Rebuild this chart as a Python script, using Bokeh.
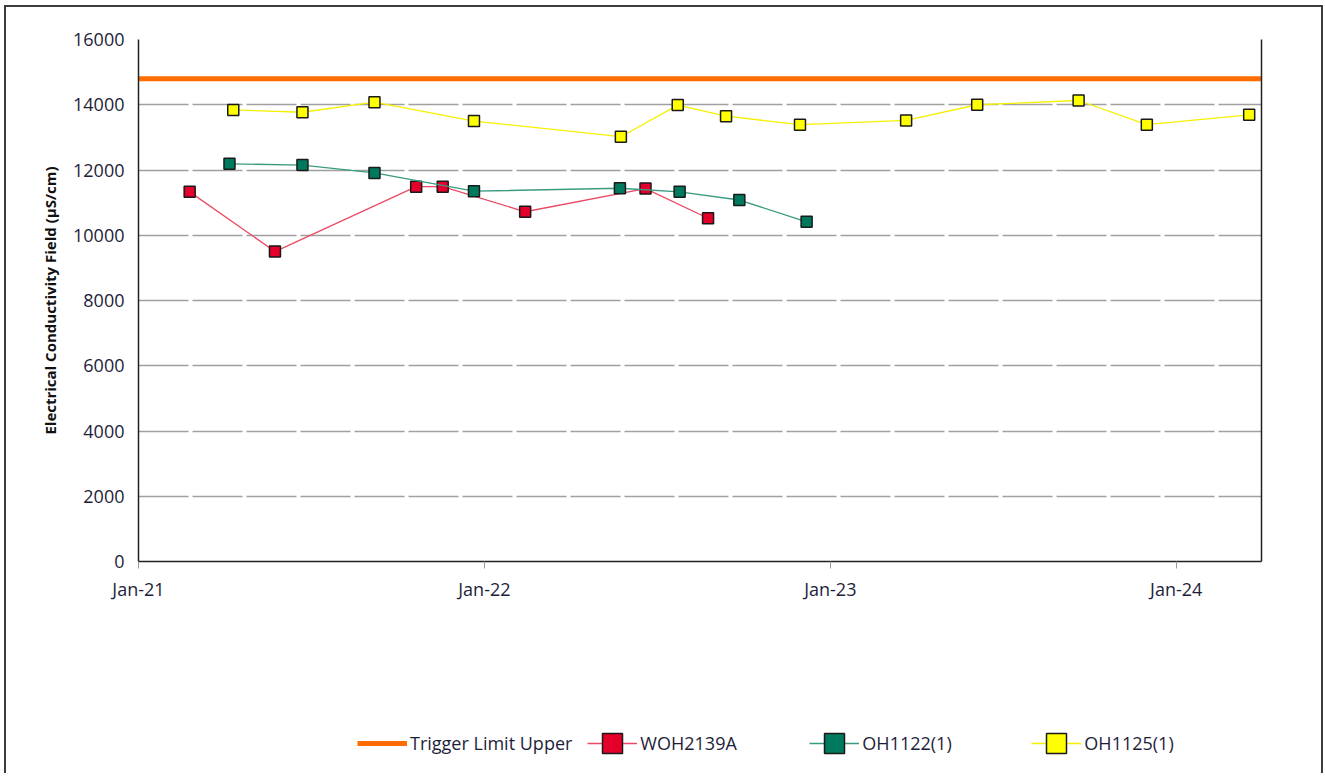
from datetime import datetime
from bokeh.plotting import figure
from bokeh.layouts import column
from bokeh.models import (ColumnDataSource, DatetimeTickFormatter, FixedTicker,
                          LinearAxis, Legend, LegendItem, Range1d)
from bokeh.embed import file_html
from bokeh.resources import INLINE

# ---------------- data ----------------
woh_dates = ["2021-02-24", "2021-05-25", "2021-10-21", "2021-11-18",
             "2022-02-13", "2022-06-20", "2022-08-25"]
woh_vals = [11330, 9500, 11490, 11490, 10720, 11430, 10520]

oh1122_dates = ["2021-04-07", "2021-06-23", "2021-09-07", "2021-12-21",
                "2022-05-24", "2022-07-26", "2022-09-27", "2022-12-07"]
oh1122_vals = [12190, 12150, 11910, 11350, 11440, 11330, 11080, 10410]

oh1125_dates = ["2021-04-11", "2021-06-23", "2021-09-07", "2021-12-21",
                "2022-05-25", "2022-07-24", "2022-09-13", "2022-11-30",
                "2023-03-22", "2023-06-05", "2023-09-20", "2023-12-01",
                "2024-03-18"]
oh1125_vals = [13840, 13770, 14080, 13500, 13020, 13990, 13650, 13390,
               13520, 14000, 14130, 13390, 13690]

trigger_dates = ["2021-01-01", "2024-03-31"]
trigger_vals = [14800, 14800]

year_ticks = ["2021-01-01", "2022-01-01", "2023-01-01", "2024-01-01"]
y_ticks = [0, 2000, 4000, 6000, 8000, 10000, 12000, 14000, 16000]

series_names = ["Trigger Limit Upper", "WOH2139A", "OH1122(1)", "OH1125(1)"]

def d(lst):
    return [datetime.strptime(s, "%Y-%m-%d") for s in lst]

FONT = "Open Sans"
TXT = "#1e1e3a"
TRIG_C = "#ff6d00"
RED, RED_L = "#e4002b", "#ea4a64"
GRN, GRN_L = "#007a5e", "#3a9a80"
YEL, YEL_L = "#ffff00", "#f5f000"

W = 1315

p = figure(width=W, height=610, x_axis_type="datetime",
           output_backend="svg", toolbar_location=None,
           x_range=Range1d(d(trigger_dates)[0], d(trigger_dates)[1]),
           y_range=Range1d(0, 16000),
           min_border_left=132, min_border_right=60,
           min_border_top=32, min_border_bottom=56)
p.outline_line_color = None
p.background_fill_color = "white"
p.border_fill_color = "white"

# grid
p.xgrid.grid_line_color = None
p.ygrid.grid_line_color = "#a0a0a0"
p.ygrid.grid_line_width = 1.5
p.ygrid.grid_line_dash = "50 4"

# axes
xa = p.xaxis[0]
xa.ticker = FixedTicker(ticks=[dt.timestamp() * 1000 for dt in d(year_ticks)])
xa.formatter = DatetimeTickFormatter(years="%b-%y", months="%b-%y", days="%b-%y")
xa.axis_line_color = "#222222"
xa.axis_line_width = 1.5
xa.major_tick_line_color = "#999999"
xa.major_tick_out = 7
xa.major_tick_in = 0
xa.minor_tick_line_color = None
xa.major_label_standoff = 8
xa.major_label_text_font = FONT
xa.major_label_text_font_size = "18px"
xa.major_label_text_color = TXT

ya = p.yaxis[0]
ya.ticker = FixedTicker(ticks=y_ticks)
ya.axis_line_color = "#222222"
ya.axis_line_width = 1.5
ya.major_tick_line_color = None
ya.minor_tick_line_color = None
ya.major_tick_out = 0
ya.major_tick_in = 0
ya.major_label_standoff = 14
ya.major_label_text_font = FONT
ya.major_label_text_font_size = "18px"
ya.major_label_text_color = TXT
ya.axis_label = "Electrical Conductivity Field (µS/cm)"
ya.axis_label_text_font = FONT
ya.axis_label_text_font_size = "15px"
ya.axis_label_text_font_style = "bold"
ya.axis_label_text_color = "#111111"
ya.axis_label_standoff = 10

ra = LinearAxis(ticker=FixedTicker(ticks=[]), axis_line_color="#222222",
                axis_line_width=1.5, major_tick_line_color=None,
                minor_tick_line_color=None)
p.add_layout(ra, "right")

# series
trig_src = ColumnDataSource(dict(x=d(trigger_dates), y=trigger_vals))
p.line("x", "y", source=trig_src, line_color=TRIG_C, line_width=5)

def series(fig, src, color, lcolor):
    l = fig.line("x", "y", source=src, line_color=lcolor, line_width=1.3)
    s = fig.scatter("x", "y", source=src, marker="square", size=11,
                    fill_color=color, line_color="#1a1a1a", line_width=1.5)
    return l, s

srcs = [ColumnDataSource(dict(x=d(a), y=b)) for a, b in
        [(woh_dates, woh_vals), (oh1122_dates, oh1122_vals), (oh1125_dates, oh1125_vals)]]
cols = [(RED, RED_L), (GRN, GRN_L), (YEL, YEL_L)]
for src, (c, lc) in zip(srcs, cols):
    series(p, src, c, lc)

# ---------------- legend strip ----------------
# the same sources are reused; this strip's ranges keep them out of view,
# so only the legend swatches show
lf = figure(width=W, height=156, output_backend="svg", toolbar_location=None,
            x_range=Range1d(0, 1), y_range=Range1d(0, 1),
            x_axis_location=None, y_axis_location=None,
            min_border_left=0, min_border_right=0,
            min_border_top=0, min_border_bottom=0)
lf.outline_line_color = None
lf.grid.visible = False
lf.background_fill_color = "white"
lf.border_fill_color = "white"

lt = lf.line("x", "y", source=trig_src, line_color=TRIG_C, line_width=5)
items = [LegendItem(label=series_names[0], renderers=[lt])]
for name, src, (c, lc) in zip(series_names[1:], srcs, cols):
    ll, ls = series(lf, src, c, lc)
    items.append(LegendItem(label=name, renderers=[ll, ls]))

legend = Legend(items=items, orientation="horizontal", location=(219, 2))
legend.glyph_width = 50
legend.glyph_height = 56
legend.label_standoff = 3
legend.spacing = 15
legend.label_width = 154
legend.padding = 0
legend.margin = 0
legend.border_line_color = None
legend.background_fill_alpha = 0
legend.label_text_font = FONT
legend.label_text_font_size = "18px"
legend.label_text_color = TXT
lf.add_layout(legend, "center")

layout = column(p, lf, spacing=0)
layout.margin = (5, 0, 0, 4)
layout.styles = {"border-left": "2px solid #3c3c3c",
                 "border-top": "2px solid #3c3c3c",
                 "border-right": "2px solid #3c3c3c"}

open("out.html", "w").write(file_html(layout, INLINE))
